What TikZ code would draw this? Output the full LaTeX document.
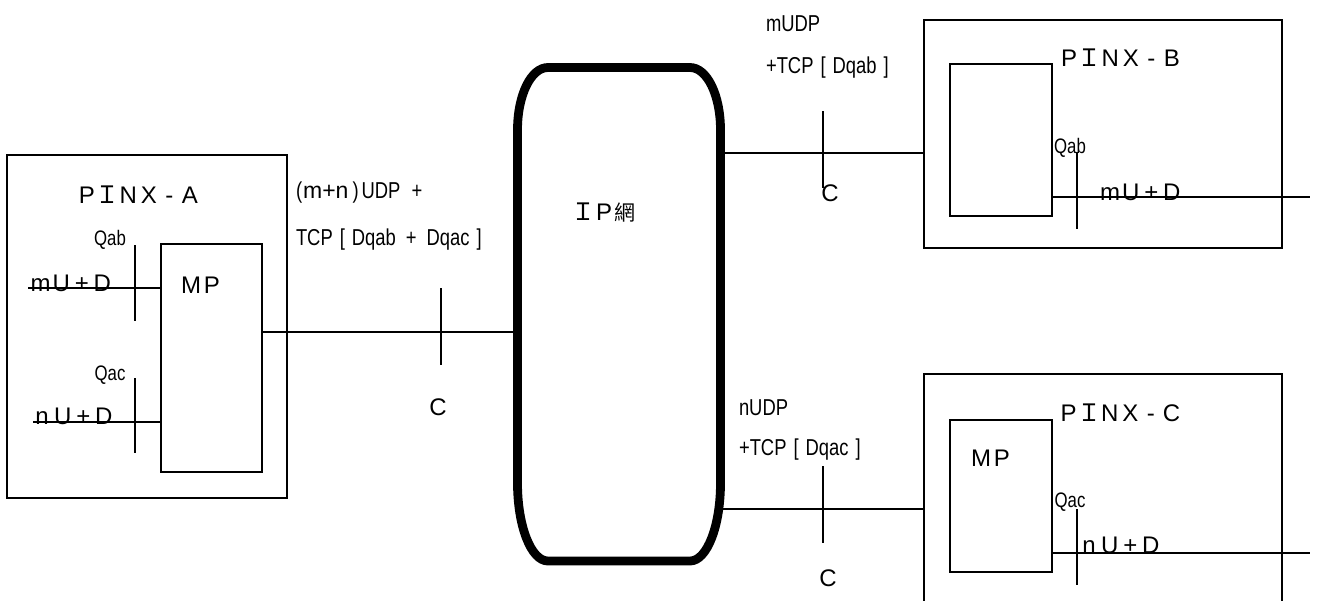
\documentclass[tikz,border=0pt]{standalone}
\usepackage{fontspec}
\setmainfont{Liberation Sans}
\newfontfamily\cjk{Noto Sans CJK TC}
\newfontfamily\narrowf[FakeStretch=0.8]{Liberation Sans}
\newcommand\fwbox[1]{\makebox[10.3pt]{#1}}
\newcommand\fwI{\makebox[10.3pt]{\cjk\fontsize{12pt}{14pt}\selectfont Ｉ}}
\newcommand\gap{\hspace{3.5pt}}
\begin{document}
\begin{tikzpicture}[x=0.5pt,y=-0.5pt, line width=1pt,
  box/.style={draw, rectangle, inner sep=0pt, outer sep=0pt, line width=1pt},
  wide/.style={font=\fontsize{12pt}{14pt}\selectfont, inner sep=0pt},
  slim/.style={font=\narrowf\fontsize{11.5pt}{13pt}\selectfont, inner sep=0pt, anchor=base west},
  qlab/.style={font=\narrowf\fontsize{10.5pt}{12pt}\selectfont, inner sep=0pt},
  ipnet/.style={line width=4.4pt, line join=round},
  ]
\useasboundingbox (0,0) rectangle (1317,600);
\clip (0,0) rectangle (1317,600);

% boxes
\node[box, minimum width=140pt, minimum height=171.5pt] (pinxA) at (147,326.5) {};
\node[box, minimum width=50.5pt, minimum height=114pt] (mpA) at (211.5,358) {};
\node[box, minimum width=179pt, minimum height=114pt] (pinxB) at (1103,134) {};
\node[box, minimum width=51pt, minimum height=76pt] (mpB) at (1001,140) {};
\node[box, minimum width=179pt, minimum height=123pt] (pinxC) at (1103,497) {};
\node[box, minimum width=51pt, minimum height=76pt] (mpC) at (1001,496) {};

% IP network
\draw[ipnet] (548,67.5) -- (690,67.5) .. controls (707,67.5) and (720.5,95) .. (720.5,130)
  -- (720.5,483) .. controls (720.5,526) and (707,561) .. (690,561)
  -- (548,561) .. controls (531,561) and (517.5,526) .. (517.5,483)
  -- (517.5,130) .. controls (517.5,95) and (531,67.5) .. (548,67.5) -- cycle;
\coordinate (ipL) at (517.5,332);
\coordinate (ipR1) at (720.5,153);
\coordinate (ipR2) at (720.5,509);

% connectors
\draw (mpA.east |- ipL) -- (ipL);
\draw (ipR1) -- (pinxB.west |- ipR1);
\draw (ipR2) -- (pinxC.west |- ipR2);
\coordinate (inA1) at (28,288);
\coordinate (inA2) at (33,422);
\coordinate (outB) at (1310,197);
\coordinate (outC) at (1310,553);
\draw (inA1) -- (mpA.west |- inA1);
\draw (inA2) -- (mpA.west |- inA2);
\draw (mpB.east |- outB) -- (outB);
\draw (mpC.east |- outC) -- (outC);

% ticks
\draw (135,245) -- (135,321);
\draw (135,378) -- (135,453);
\draw (441,288) -- (441,365);
\draw (823,111) -- (823,188);
\draw (823,466) -- (823,543);
\draw (1077,152) -- (1077,229);
\draw (1077,509) -- (1077,585);

% labels
\node[wide] (lA) at (138.5,195) {\fwbox{P}\fwI\fwbox{N}\fwbox{X}\fwbox{-}\fwbox{A}};
\node[wide] (lmpA) at (201.5,285) {\fwbox{M}\fwbox{P}};
\node[qlab] (qA1) at (110,240) {Qab};
\node[qlab] (qA2) at (110,375) {Qac};
\node[wide] (uA1) at (71.5,283) {\fwbox{m}\fwbox{U}\fwbox{+}\fwbox{D}};
\node[wide] (uA2) at (73,416) {\fwbox{n}\fwbox{U}\fwbox{+}\fwbox{D}};
\node[slim] (t1) at (295,198.5) {(\hspace{0.5pt}{\fontspec{Liberation Sans}m+n}\hspace{2pt})\hspace{1.5pt}UDP\hspace{3pt} +};
\node[slim] (t2) at (295,245.5) {TCP\gap[\gap Dqab\hspace{5pt}+\hspace{5pt}Dqac\gap]};
\node[wide] (c1) at (438,407) {C};
\node[wide] (ip) at (604,213) {\fwI\fwbox{P}\fwbox{\cjk\fontsize{10.5pt}{12pt}\selectfont 網}};
\node[slim] (t3) at (765,31.5) {mUDP};
\node[slim] (t4) at (765,73.5) {+TCP\gap[\gap Dqab\gap]};
\node[wide] (c2) at (830,193) {C};
\node[wide] (lB) at (1120.5,57.5) {\fwbox{P}\fwI\fwbox{N}\fwbox{X}\fwbox{-}\fwbox{B}};
\node[qlab] (qB) at (1070,148) {Qab};
\node[wide] (uB) at (1141,192) {\fwbox{m}\fwbox{U}\fwbox{+}\fwbox{D}};
\node[slim] (t5) at (738,415.5) {nUDP};
\node[slim] (t6) at (738,455) {+TCP\gap[\gap Dqac\gap]};
\node[wide] (c3) at (828,578) {C};
\node[wide] (lC) at (1120,413) {\fwbox{P}\fwI\fwbox{N}\fwbox{X}\fwbox{-}\fwbox{C}};
\node[wide] (lmpC) at (991.5,458) {\fwbox{M}\fwbox{P}};
\node[qlab] (qC) at (1070,502) {Qac};
\node[wide] (uC) at (1120,545) {\fwbox{n}\fwbox{U}\fwbox{+}\fwbox{D}};
\end{tikzpicture}
\end{document}
